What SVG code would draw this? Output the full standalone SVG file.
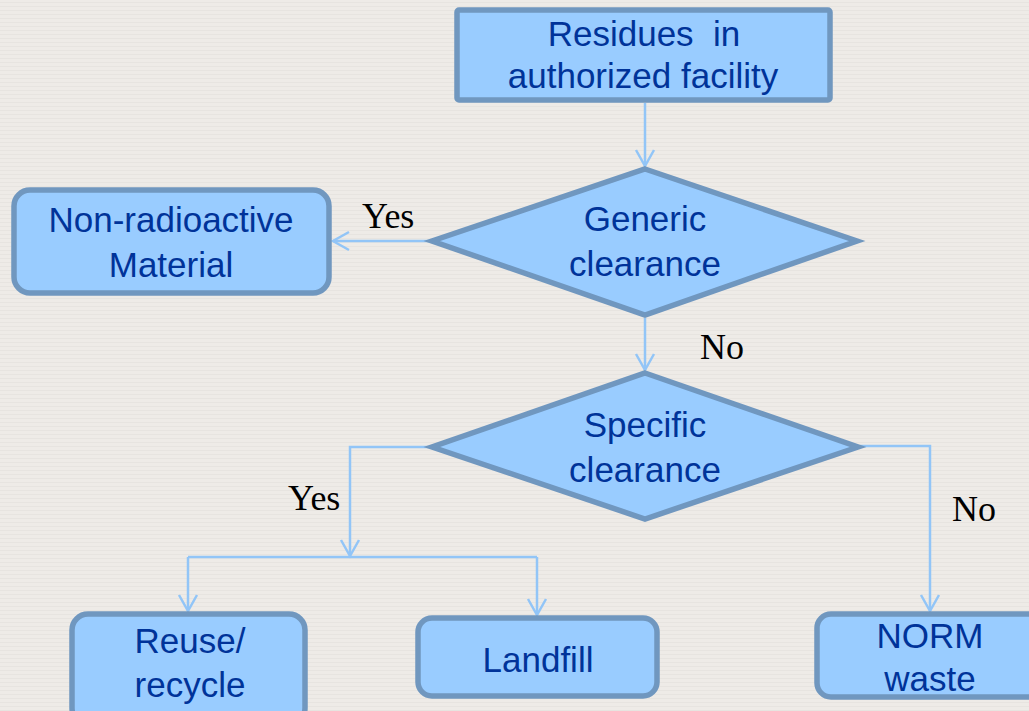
<svg xmlns="http://www.w3.org/2000/svg" width="1029" height="711" viewBox="0 0 1029 711">
<defs>
<pattern id="bg" width="8" height="4" patternUnits="userSpaceOnUse">
<rect width="8" height="4" fill="#EEEBE7"/>
<rect y="2" width="8" height="1" fill="#E7E4E0"/>
</pattern>
<marker id="arr" viewBox="0 0 22 22" refX="19" refY="11" markerWidth="22" markerHeight="22" markerUnits="userSpaceOnUse" orient="auto">
<path d="M3,2 L19,11 L3,20" fill="none" stroke="#92C5F7" stroke-width="2.5"/>
</marker>
<style>
.box{fill:#99CCFF;stroke:#7097BF;stroke-width:5.5}
.t{font-family:"Liberation Sans",Arial,sans-serif;font-size:35px;fill:#003399;text-anchor:middle}
.lbl{font-family:"Liberation Serif","Times New Roman",serif;font-size:36px;fill:#000}
.c{fill:none;stroke:#92C5F7;stroke-width:2.5}
</style>
</defs>
<rect width="1029" height="711" fill="url(#bg)"/>
<g id="connectors">
<path class="c" d="M645,103 V166" marker-end="url(#arr)"/>
<path class="c" d="M430,241 H333" marker-end="url(#arr)"/>
<path class="c" d="M645,318 V370" marker-end="url(#arr)"/>
<path class="c" d="M431,447 H350 V556" marker-end="url(#arr)"/>
<path class="c" d="M188,557 H537"/>
<path class="c" d="M188,557 V611" marker-end="url(#arr)"/>
<path class="c" d="M537,557 V615" marker-end="url(#arr)"/>
<path class="c" d="M860,446 H930 V611" marker-end="url(#arr)"/>
<text class="lbl" x="362" y="228">Yes</text>
<text class="lbl" x="700" y="359">No</text>
<text class="lbl" x="288" y="510">Yes</text>
<text class="lbl" x="952" y="521">No</text>
</g>
<g id="residues">
<rect class="box" x="457" y="10" width="373" height="90" rx="2"/>
<text class="t" x="644" y="46" xml:space="preserve">Residues  in</text>
<text class="t" x="643" y="88">authorized facility</text>
</g>
<g id="generic">
<polygon class="box" points="645,169 857,241 645,315 432,241"/>
<text class="t" x="645" y="231">Generic</text>
<text class="t" x="645" y="276">clearance</text>
</g>
<g id="nonradioactive">
<rect class="box" x="14" y="190" width="315" height="103" rx="16"/>
<text class="t" x="171" y="232">Non-radioactive</text>
<text class="t" x="171" y="277">Material</text>
</g>
<g id="specific">
<polygon class="box" points="645,373 858,447 645,519 432,447"/>
<text class="t" x="645" y="437">Specific</text>
<text class="t" x="645" y="482">clearance</text>
</g>
<g id="reuse">
<rect class="box" x="72" y="614" width="233" height="110" rx="16"/>
<text class="t" x="190" y="653">Reuse/</text>
<text class="t" x="190" y="697">recycle</text>
</g>
<g id="landfill">
<rect class="box" x="418" y="618" width="239" height="78" rx="14"/>
<text class="t" x="538" y="672">Landfill</text>
</g>
<g id="norm">
<rect class="box" x="817" y="614" width="230" height="83" rx="14"/>
<text class="t" x="930" y="648">NORM</text>
<text class="t" x="930" y="691">waste</text>
</g>
</svg>
